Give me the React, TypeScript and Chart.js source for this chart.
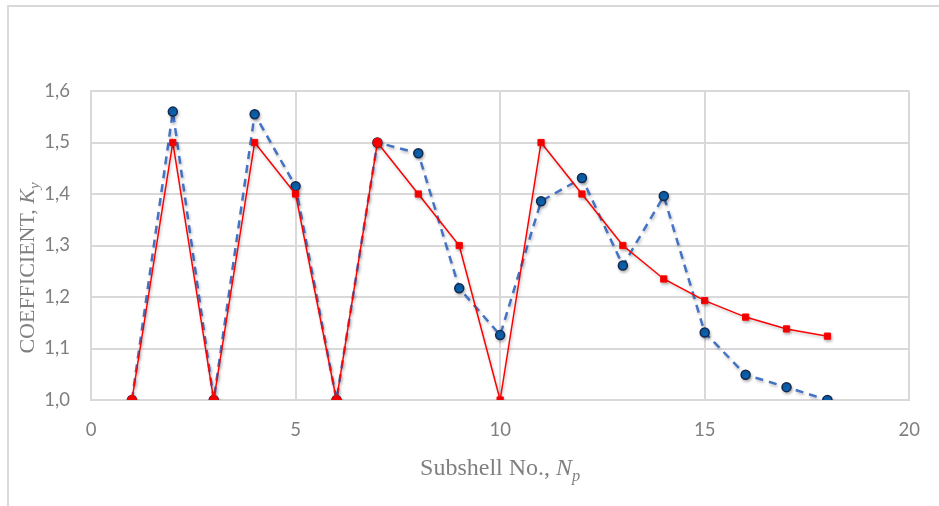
import React, { useEffect, useRef } from "react";
import { Chart, registerables } from "chart.js";

Chart.register(...registerables);

const subshells = [1, 2, 3, 4, 5, 6, 7, 8, 9, 10, 11, 12, 13, 14, 15, 16, 17, 18];
const blueValues = [1.0, 1.56, 1.0, 1.555, 1.415, 1.0, 1.5, 1.479, 1.217, 1.126, 1.386, 1.431, 1.261, 1.396, 1.131, 1.049, 1.025, 1.0];
const redValues = [1.0, 1.5, 1.0, 1.5, 1.4, 1.0, 1.5, 1.4, 1.3, 1.0, 1.5, 1.4, 1.3, 1.235, 1.193, 1.161, 1.138, 1.124];
const redMarkers = ["circle", "rect", "circle", "rect", "rect", "circle", "circle", "rect", "rect", "rect", "rect", "rect", "rect", "rect", "rect", "rect", "rect", "rect"];
const xTitle = ["Subshell No., ", "N", "p"];
const yTitle = ["COEFFICIENT, ", "K", "y"];

const titlePlugin = {
  id: "axisTitles",
  afterDraw(chart: any) {
    const ctx = chart.ctx;
    const area = chart.chartArea;
    ctx.save();
    ctx.fillStyle = "#7f7f7f";
    ctx.textBaseline = "alphabetic";
    ctx.textAlign = "left";
    // X title
    const xs = 24;
    const sub = 0.68;
    ctx.font = `${xs}px "Liberation Serif"`;
    const w1 = ctx.measureText(xTitle[0]).width;
    ctx.font = `italic ${xs}px "Liberation Serif"`;
    const w2 = ctx.measureText(xTitle[1]).width;
    ctx.font = `italic ${xs * sub}px "Liberation Serif"`;
    const w3 = ctx.measureText(xTitle[2]).width;
    let x = (area.left + area.right) / 2 - (w1 + w2 + w3) / 2;
    const by = 475;
    ctx.font = `${xs}px "Liberation Serif"`;
    ctx.fillText(xTitle[0], x, by);
    x += w1;
    ctx.font = `italic ${xs}px "Liberation Serif"`;
    ctx.fillText(xTitle[1], x, by);
    x += w2;
    ctx.font = `italic ${xs * sub}px "Liberation Serif"`;
    ctx.fillText(xTitle[2], x, by + 6);

    // Y title rotated
    const ys = 22;
    ctx.translate(34, 268);
    ctx.rotate(-Math.PI / 2);
    ctx.font = `${ys}px "Liberation Serif"`;
    const v1 = ctx.measureText(yTitle[0]).width;
    ctx.font = `italic ${ys}px "Liberation Serif"`;
    const v2 = ctx.measureText(yTitle[1]).width;
    ctx.font = `italic ${ys * sub}px "Liberation Serif"`;
    const v3 = ctx.measureText(yTitle[2]).width;
    let yx = -(v1 + v2 + v3) / 2;
    ctx.font = `${ys}px "Liberation Serif"`;
    ctx.fillText(yTitle[0], yx, 0);
    yx += v1;
    ctx.font = `italic ${ys}px "Liberation Serif"`;
    ctx.fillText(yTitle[1], yx, 0);
    yx += v2;
    ctx.font = `italic ${ys * sub}px "Liberation Serif"`;
    ctx.fillText(yTitle[2], yx, 5);
    ctx.restore();
  },
};

const shadowPlugin = {
  id: "shadow",
  beforeDatasetDraw(chart: any) {
    const ctx = chart.ctx;
    ctx.save();
    ctx.shadowColor = "rgba(0,0,0,0.25)";
    ctx.shadowBlur = 3;
    ctx.shadowOffsetX = 1;
    ctx.shadowOffsetY = 2;
  },
  afterDatasetDraw(chart: any) {
    chart.ctx.restore();
  },
};

export default function App() {
  const ref = useRef<HTMLCanvasElement | null>(null);
  useEffect(() => {
    if (!ref.current) return;
    const blueData = subshells.map((s, i) => ({ x: s, y: blueValues[i] }));
    const redData = subshells.map((s, i) => ({ x: s, y: redValues[i] }));
    const chart = new Chart(ref.current, {
      type: "line",
      data: {
        datasets: [
          {
            label: "Ky (calc)",
            data: blueData,
            order: 2,
            borderColor: "#4472c4",
            borderWidth: 2.5,
            borderDash: [8, 6],
            pointStyle: "circle",
            pointRadius: 4.5,
            pointBackgroundColor: "#0c63b0",
            pointBorderColor: "#13294f",
            pointBorderWidth: 1.5,
            tension: 0,
          },
          {
            label: "Ky",
            data: redData,
            order: 1,
            borderColor: "#ff0000",
            borderWidth: 1.5,
            pointStyle: redMarkers as any,
            pointRadius: 4.4,
            pointBackgroundColor: "#ff0000",
            pointBorderColor: "#ff0000",
            pointBorderWidth: 1,
            tension: 0,
          },
        ],
      },
      options: {
        animation: false,
        responsive: false,
        layout: { padding: { left: 0, right: 22, top: 91, bottom: 0 } },
        plugins: { legend: { display: false }, tooltip: { enabled: false } },
        scales: {
          x: {
            type: "linear",
            min: 0,
            max: 20,
            ticks: { stepSize: 5, padding: 19, color: "#7f7f7f", font: { family: "Lato", size: 18.5 } },
            grid: { color: "#d9d9d9", lineWidth: 2, drawTicks: false },
            border: { display: true, color: "#d9d9d9", width: 2 },
            afterFit(scale: any) {
              scale.height = 106;
            },
          },
          y: {
            type: "linear",
            min: 1,
            max: 1.6,
            ticks: {
              stepSize: 0.1,
              padding: 21,
              color: "#7f7f7f",
              font: { family: "Lato", size: 18.5 },
              callback: (v: any) => Number(v).toFixed(1).replace(".", ","),
            },
            grid: { color: "#d9d9d9", lineWidth: 2, drawTicks: false },
            border: { display: true, color: "#d9d9d9", width: 2 },
            afterFit(scale: any) {
              scale.width = 91;
            },
          },
        },
      },
      plugins: [shadowPlugin, titlePlugin],
    });
    return () => chart.destroy();
  }, []);

  return (
    <div style={{ position: "fixed", left: 0, top: 0, width: 939, height: 506, background: "#fff", overflow: "hidden" }}>
      <div
        style={{
          position: "absolute",
          left: 7,
          top: 5,
          width: 1000,
          height: 600,
          borderLeft: "2px solid #d9d9d9",
          borderTop: "2px solid #d9d9d9",
        }}
      />
      <canvas ref={ref} width={939} height={506} style={{ position: "absolute", left: 0, top: 0 }} />
    </div>
  );
}
